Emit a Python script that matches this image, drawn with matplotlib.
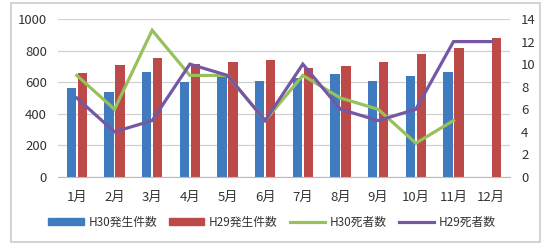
import matplotlib
matplotlib.use("Agg")
import matplotlib.pyplot as plt
import numpy as np
from matplotlib.lines import Line2D
from matplotlib.patches import Patch

plt.rcParams['font.family'] = ['Noto Sans CJK JP', 'DejaVu Sans']

months = ["1月", "2月", "3月", "4月", "5月", "6月", "7月", "8月", "9月", "10月", "11月", "12月"]
h30_cases = [565, 538, 663, 599, 640, 607, 625, 652, 607, 641, 665, None]
h29_cases = [658, 707, 751, 717, 728, 741, 688, 703, 728, 778, 816, 882]
h30_deaths = [9, 6, 13, 9, 9, 5, 9, 7, 6, 3, 5, None]
h29_deaths = [7, 4, 5, 10, 9, 5, 10, 6, 5, 6, 12, 12]

c_blue = "#3F7BBE"
c_red = "#BC4A48"
c_green = "#97C15A"
c_purple = "#7657A3"

fig = plt.figure(figsize=(5.44, 2.43), dpi=100)
ax = fig.add_axes([58/544, 1-177/243, 452/544, 158/243])
ax2 = ax.twinx()

x = np.arange(len(months))
w = 0.25
off = 0.145
h30c = np.array([np.nan if v is None else v for v in h30_cases], dtype=float)
ax.bar(x - off, h30c, width=w, color=c_blue, zorder=2)
ax.bar(x + off, h29_cases, width=w, color=c_red, zorder=2)

h30d = np.array([np.nan if v is None else v for v in h30_deaths], dtype=float)
ax2.plot(x, h30d, color=c_green, lw=2.3, zorder=3, solid_joinstyle='miter')
ax2.plot(x, h29_deaths, color=c_purple, lw=2.3, zorder=3, solid_joinstyle='miter')

ax.set_xlim(-0.5, 11.5)
ax.set_ylim(0, 1000)
ax.set_yticks(range(0, 1001, 200))
ax2.set_ylim(0, 14)
ax2.set_yticks(range(0, 15, 2))
ax.set_xticks(x)
ax.set_xticklabels(months)
ax.yaxis.grid(True, color="#D0D0D0", lw=0.9, zorder=0)
ax.set_axisbelow(True)
for a in (ax, ax2):
    for s in a.spines.values():
        s.set_visible(False)
ax.spines['bottom'].set_visible(True)
ax.spines['bottom'].set_color("#BBBBBB")
ax.tick_params(axis='x', length=0, labelsize=9.5, colors="#333333", pad=10)
ax.tick_params(axis='y', length=0, labelsize=9.5, colors="#333333", pad=8)
ax2.tick_params(axis='y', length=0, labelsize=9.5, colors="#333333", pad=8)

handles = [Patch(color=c_blue), Patch(color=c_red),
           Line2D([], [], color=c_green, lw=2.3), Line2D([], [], color=c_purple, lw=2.3)]
labels = ["H30発生件数", "H29発生件数", "H30死者数", "H29死者数"]
fig.legend(handles, labels, loc='center', bbox_to_anchor=(0.5, 1-222/243), ncol=4,
           frameon=False, fontsize=8.5, handlelength=3.0, handleheight=0.5,
           columnspacing=1.0, handletextpad=0.4, labelcolor="#333333")

# outer frame
fig.add_artist(plt.Rectangle((11/544, 1.5/243), 540/544 - 11/544, 240/243 - 1.5/243,
                             transform=fig.transFigure, fill=False, ec="#CCCCCC", lw=1.2))

fig.savefig("out.png", dpi=100)
